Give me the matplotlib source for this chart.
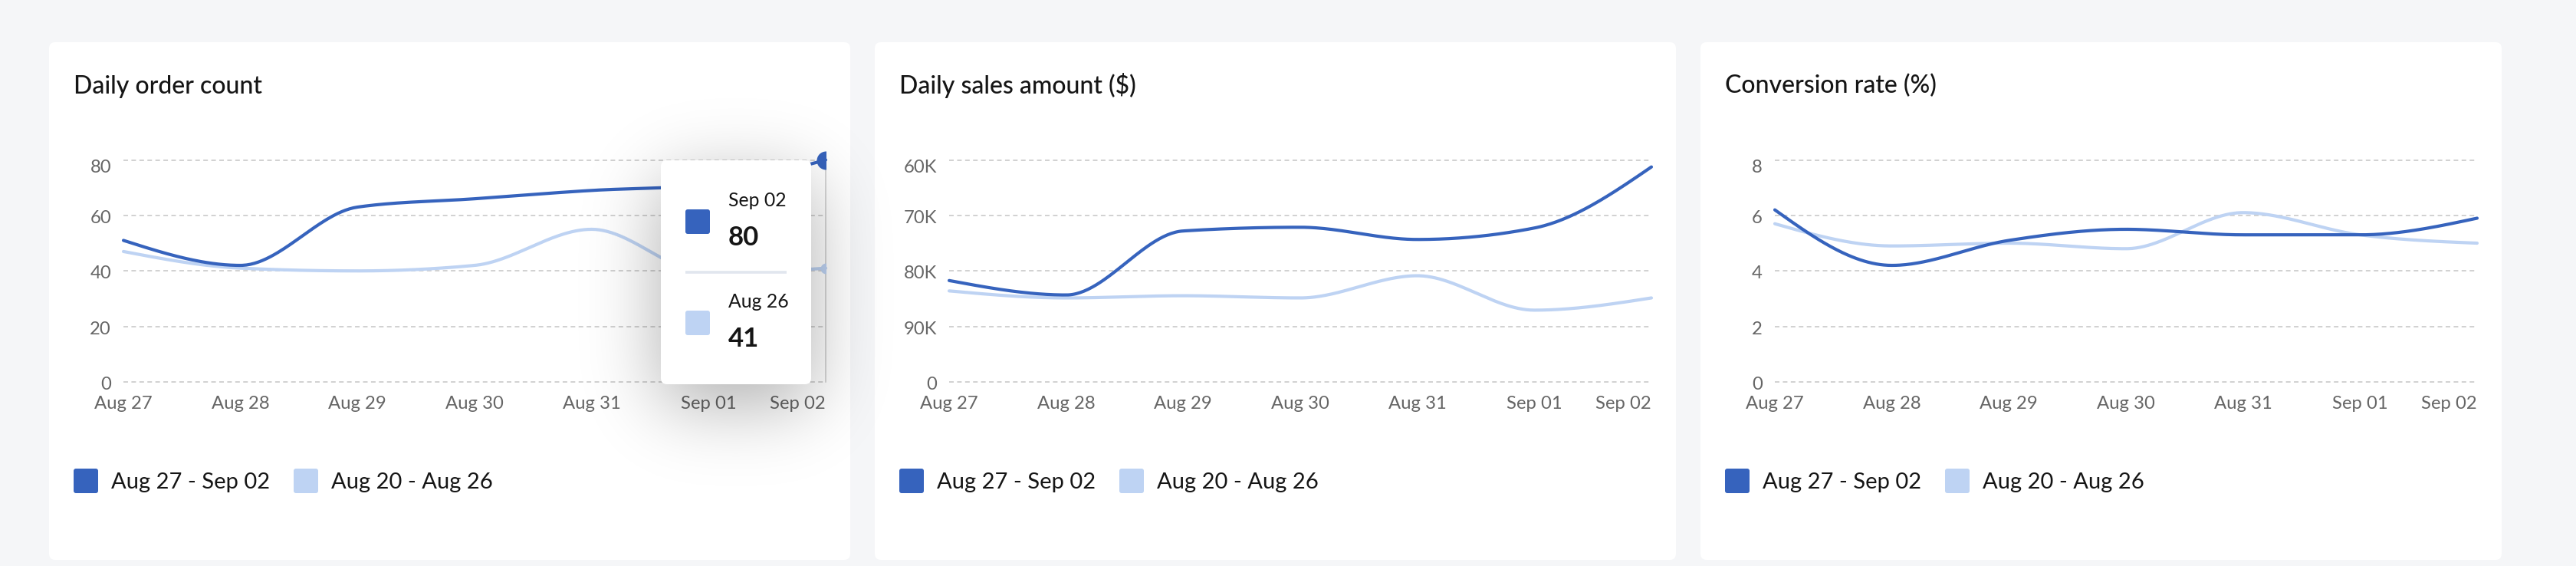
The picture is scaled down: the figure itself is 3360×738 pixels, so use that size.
import math
import numpy as np
import matplotlib
matplotlib.use("Agg")
import matplotlib.pyplot as plt
from matplotlib.patches import FancyBboxPatch, Rectangle
from matplotlib import transforms

# ---------------- data ----------------
dates = ["Aug 27", "Aug 28", "Aug 29", "Aug 30", "Aug 31", "Sep 01", "Sep 02"]
prev_dates = ["Aug 20", "Aug 21", "Aug 22", "Aug 23", "Aug 24", "Aug 25", "Aug 26"]
legend_labels = ["Aug 27 - Sep 02", "Aug 20 - Aug 26"]
titles = ["Daily order count", "Daily sales amount ($)", "Conversion rate (%)"]

orders_current = [51, 42, 63, 66, 69, 71, 80]
orders_previous = [47, 41, 40, 42, 55, 39, 41]
orders_ticks = [0, 20, 40, 60, 80]
orders_tick_labels = ["0", "20", "40", "60", "80"]

sales_current = [27400, 23500, 40800, 41800, 38500, 41600, 58100]
sales_previous = [24600, 22700, 23300, 22700, 28700, 19400, 22700]
sales_ticks = [0, 15000, 30000, 45000, 60000]
sales_tick_labels = ["0", "90K", "80K", "70K", "60K"]

conv_current = [6.2, 4.2, 5.1, 5.5, 5.3, 5.3, 5.9]
conv_previous = [5.7, 4.9, 5.0, 4.8, 6.1, 5.3, 5.0]
conv_ticks = [0, 2, 4, 6, 8]
conv_tick_labels = ["0", "2", "4", "6", "8"]

# ---------------- style ----------------
DARK = "#3663BD"
LIGHT = "#BED3F3"
PAGE = "#F5F6F8"
TEXT = "#151515"
TICK = "#666666"
GRID = "#C9C9C9"

plt.rcParams["font.family"] = ["Lato", "DejaVu Sans"]
plt.rcParams["lines.scale_dashes"] = False

W, H = 3360, 738
DPI = 100
fig = plt.figure(figsize=(W / DPI, H / DPI), dpi=DPI, facecolor=PAGE)


def fig_rect(x0, y0, x1, y1):
    return [x0 / W, 1 - y1 / H, (x1 - x0) / W, (y1 - y0) / H]


def monotone(ys, n=60):
    xs = np.arange(len(ys), dtype=float)
    ys = np.asarray(ys, dtype=float)
    h = np.diff(xs)
    s = np.diff(ys) / h
    m = len(xs)
    t = np.zeros(m)
    for i in range(1, m - 1):
        h0, h1 = h[i - 1], h[i]
        s0, s1 = s[i - 1], s[i]
        p = (s0 * h1 + s1 * h0) / (h0 + h1)
        t[i] = (np.sign(s0) + np.sign(s1)) * min(abs(s0), abs(s1), 0.5 * abs(p))
    t[0] = (3 * s[0] - t[1]) / 2
    t[-1] = (3 * s[-1] - t[-2]) / 2
    X, Y = [], []
    for i in range(m - 1):
        u = np.linspace(0, 1, n)
        hh = h[i]
        h00 = 2 * u**3 - 3 * u**2 + 1
        h10 = u**3 - 2 * u**2 + u
        h01 = -2 * u**3 + 3 * u**2
        h11 = u**3 - u**2
        y = h00 * ys[i] + h10 * hh * t[i] + h01 * ys[i + 1] + h11 * hh * t[i + 1]
        X.append(xs[i] + u * hh)
        Y.append(y)
    return np.concatenate(X), np.concatenate(Y)


# background axes in pixel coordinates
bg = fig.add_axes([0, 0, 1, 1], zorder=0)
bg.set_xlim(0, W)
bg.set_ylim(H, 0)
bg.axis("off")

card_lefts = [64, 1141, 2218]
card_w = 1045
card_top, card_bot = 55, 730

panels = [
    (orders_current, orders_previous, orders_ticks, orders_tick_labels),
    (sales_current, sales_previous, sales_ticks, sales_tick_labels),
    (conv_current, conv_previous, conv_ticks, conv_tick_labels),
]

plot_top, plot_bot = 208.5, 498
axes = []
for k, cl in enumerate(card_lefts):
    bg.add_patch(FancyBboxPatch((cl, card_top), card_w, card_bot - card_top,
                                boxstyle="round,pad=0,rounding_size=8",
                                fc="white", ec="none"))
    bg.text(cl + 32, 121.5, titles[k], fontsize=23, fontweight="medium", color=TEXT,
            va="baseline", ha="left")
    # legend
    for j, (col, lab) in enumerate(zip([DARK, LIGHT], legend_labels)):
        sx = cl + 32 + j * 287
        bg.add_patch(FancyBboxPatch((sx, 611), 32, 32,
                                    boxstyle="round,pad=0,rounding_size=3",
                                    fc=col, ec="none"))
        bg.text(sx + 49, 637.5, lab, fontsize=21, color=TEXT, va="baseline", ha="left")

    cur, prev, ticks, tlabels = panels[k]
    ax = fig.add_axes(fig_rect(cl + 97, plot_top, cl + 1013, plot_bot), zorder=1)
    ax.set_facecolor("none")
    for sp in ax.spines.values():
        sp.set_visible(False)
    ax.set_xlim(0, 6)
    ax.set_ylim(ticks[0], ticks[-1])
    for tv in ticks:
        ax.axhline(tv, color=GRID, lw=1.2, linestyle=(0, (4.3, 3.2)), clip_on=False, zorder=0.5)
    ax.set_yticks(ticks)
    ax.set_yticklabels(tlabels)
    ax.set_xticks(range(len(dates)))
    ax.set_xticklabels(dates)
    ax.tick_params(axis="y", length=0, pad=11.5, labelsize=17.2, labelcolor=TICK)
    ax.tick_params(axis="x", length=0, pad=25.2, labelsize=17.2, labelcolor=TICK)
    for lbl in ax.get_xticklabels():
        lbl.set_va("baseline")
    ax.get_xticklabels()[-1].set_ha("right")
    ylabels = ax.get_yticklabels()
    for i, lbl in enumerate(ylabels):
        lbl.set_va("baseline")
        dy = -16.5 if i == len(ylabels) - 1 else -10
        lbl.set_transform(lbl.get_transform() + transforms.ScaledTranslation(0, dy / DPI, fig.dpi_scale_trans))

    xs, ys = monotone(prev)
    ax.plot(xs, ys, color=LIGHT, lw=3.0, solid_capstyle="round", clip_on=False, zorder=2)
    xs, ys = monotone(cur)
    ax.plot(xs, ys, color=DARK, lw=3.0, solid_capstyle="round", clip_on=False, zorder=3)
    axes.append(ax)

# active state in the first panel
ax0 = axes[0]
ax0.axvline(6, color="#CCCCCC", lw=1.1, zorder=1, clip_on=False)
clip = Rectangle((0, -20), 6, 130, transform=ax0.transData)
d1, = ax0.plot([6], [orders_current[-1]], "o", ms=17.3, mfc=DARK, mec="none", zorder=4)
d2, = ax0.plot([6], [orders_previous[-1]], "o", ms=10, mfc=LIGHT, mec="none", zorder=4)
d1.set_clip_path(clip)
d2.set_clip_path(clip)

# overlay (tooltip + shadow)
ov = fig.add_axes([0, 0, 1, 1], zorder=10)
ov.patch.set_visible(False)
ov.axis("off")

tx0, tx1, ty0, ty1 = 862, 1058, 209, 501
sx0, sx1, sy0, sy1 = 600, 1400, 60, 738
sig = 48.0
off = 26
erf = np.frompyfunc(math.erf, 1, 1)
Xc = np.arange(sx0, sx1) + 0.5
Yc = np.arange(sy0, sy1) + 0.5
fx = 0.5 * (erf((Xc - tx0) / (sig * math.sqrt(2))).astype(float) - erf((Xc - tx1) / (sig * math.sqrt(2))).astype(float))
fy = 0.5 * (erf((Yc - ty0 - off) / (sig * math.sqrt(2))).astype(float) - erf((Yc - ty1 - off) / (sig * math.sqrt(2))).astype(float))
alpha = 0.32 * np.outer(fy, fx)
rgba = np.zeros((len(Yc), len(Xc), 4))
rgba[..., 3] = alpha
ov.imshow(rgba, extent=(sx0, sx1, sy1, sy0), interpolation="bilinear", zorder=1)
ov.set_aspect("auto")
ov.set_xlim(0, W)
ov.set_ylim(H, 0)

ov.add_patch(FancyBboxPatch((tx0, ty0), tx1 - tx0, ty1 - ty0,
                            boxstyle="round,pad=0,rounding_size=8",
                            fc="white", ec="none", zorder=2))
ov.add_patch(FancyBboxPatch((894, 273), 32, 32, boxstyle="round,pad=0,rounding_size=3",
                            fc=DARK, ec="none", zorder=3))
ov.add_patch(FancyBboxPatch((894, 405), 32, 32, boxstyle="round,pad=0,rounding_size=3",
                            fc=LIGHT, ec="none", zorder=3))
ov.text(950, 269, dates[-1], fontsize=17.8, color=TEXT, va="baseline", ha="left", zorder=3)
ov.text(950, 320, f"{orders_current[-1]}", fontsize=25, fontweight="bold", color=TEXT,
        va="baseline", ha="left", zorder=3)
ov.plot([894, 1026], [355, 355], color="#E1E6EE", lw=2.6, solid_capstyle="butt", zorder=3)
ov.text(950, 401, prev_dates[-1], fontsize=17.8, color=TEXT, va="baseline", ha="left", zorder=3)
ov.text(950, 452, f"{orders_previous[-1]}", fontsize=25, fontweight="bold", color=TEXT,
        va="baseline", ha="left", zorder=3)

fig.savefig("out.png", dpi=DPI, facecolor=PAGE)
